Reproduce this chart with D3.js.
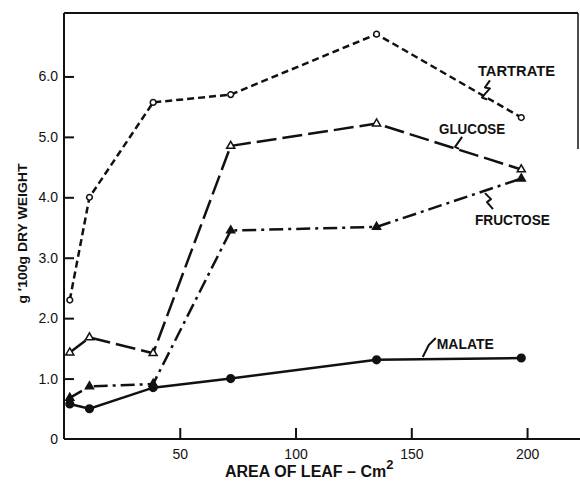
<!DOCTYPE html>
<html>
<head>
<meta charset="utf-8">
<script src="https://cdn.jsdelivr.net/npm/d3@7"></script>
<style>
  body { margin: 0; background: #fff; }
  text { font-family: "Liberation Sans", Arial, sans-serif; fill: #111; }
</style>
</head>
<body>
<div id="chart"></div>
<script>
//Width and height
var w = 580;
var h = 484;

//leaf areas (cm2) shared by every series
var leafArea = [2.5, 11, 38.5, 72, 135, 197.5];

//g / 100g dry weight
var tartrate = [2.3, 4.0, 5.57, 5.70, 6.70, 5.32];
var glucose = [1.43, 1.68, 1.42, 4.85, 5.22, 4.46];
var fructose = [0.68, 0.87, 0.91, 3.45, 3.51, 4.31];
var malate = [0.58, 0.50, 0.85, 1.00, 1.31, 1.34];

//tick labels
var yTicks = [0, 1, 2, 3, 4, 5, 6];
var xTicks = [50, 100, 150, 200];

var margin = {left: 64, right: 2, top: 13, bottom: 45};

var x = d3.scaleLinear()
  .domain([0, 222])
  .range([margin.left, w - margin.right]);

var y = d3.scaleLinear()
  .domain([0, 7.05])
  .range([h - margin.bottom, margin.top]);

//Create SVG element
var svg = d3.select("#chart")
  .append("svg")
  .attr("width", w)
  .attr("height", h);

//frame: left, top, part of the right edge, and the base line running off the page
var frame = svg.append("g")
  .attr("stroke", "#111")
  .attr("stroke-width", 2)
  .attr("fill", "none");
frame.append("line")
  .attr("x1", x(0)).attr("x2", x(0))
  .attr("y1", y(7.05)).attr("y2", y(0));
frame.append("line")
  .attr("x1", x(0)).attr("x2", x(222))
  .attr("y1", y(7.05)).attr("y2", y(7.05));
frame.append("line")
  .attr("x1", x(222)).attr("x2", x(222))
  .attr("y1", y(7.05)).attr("y2", y(4.8))
  .attr("stroke-width", 1.5);
frame.append("line")
  .attr("x1", x(0)).attr("x2", w)
  .attr("y1", y(0)).attr("y2", y(0));

//axes with inward ticks
var yAxis = d3.axisLeft(y)
  .tickValues(yTicks)
  .tickSize(-10)
  .tickPadding(6)
  .tickFormat(function(d) { return d === 0 ? "0" : d3.format(".1f")(d); });

var xAxis = d3.axisBottom(x)
  .tickValues(xTicks)
  .tickSize(-11)
  .tickPadding(10)
  .tickFormat(d3.format("d"));

var gy = svg.append("g")
  .attr("transform", "translate(" + x(0) + ",0)")
  .call(yAxis);
var gx = svg.append("g")
  .attr("transform", "translate(0," + y(0) + ")")
  .call(xAxis);

[gy, gx].forEach(function(g) {
  g.select(".domain").remove();
  g.selectAll("line").attr("stroke", "#111").attr("stroke-width", 2);
  g.selectAll("text")
    .attr("font-size", "14px")
    .attr("font-family", "Liberation Sans, Arial, sans-serif")
    .attr("fill", "#111");
});
gy.selectAll(".tick").filter(function(d) { return d === 0; }).select("line").remove();

//axis titles
svg.append("text")
  .attr("transform", "translate(27," + y(3.4) + ") rotate(-90)")
  .attr("text-anchor", "middle")
  .attr("font-size", "13px")
  .attr("font-weight", "bold")
  .attr("textLength", 140)
  .attr("lengthAdjust", "spacingAndGlyphs")
  .text("g \u2032100g DRY WEIGHT");

var xt = svg.append("text")
  .attr("x", 225)
  .attr("y", 477)
  .attr("font-size", "16px")
  .attr("font-weight", "bold");
xt.append("tspan").text("AREA OF LEAF \u2013 Cm");
xt.append("tspan")
  .attr("dy", -8)
  .attr("font-size", "13px")
  .text("2");

//series definitions
var series = [
  {name: "TARTRATE", values: tartrate, dash: "7,4", marker: "circle", fill: "#fff"},
  {name: "GLUCOSE", values: glucose, dash: "20,6", marker: "triangle", fill: "#fff"},
  {name: "FRUCTOSE", values: fructose, dash: "14,5,3,5", marker: "triangle", fill: "#111"},
  {name: "MALATE", values: malate, dash: null, marker: "circle", fill: "#111"}
];

var line = d3.line()
  .x(function(d) { return x(d[0]); })
  .y(function(d) { return y(d[1]); });

series.forEach(function(s) {
  var pts = leafArea.map(function(a, i) { return [a, s.values[i]]; });

  svg.append("path")
    .datum(pts)
    .attr("d", line)
    .attr("fill", "none")
    .attr("stroke", "#111")
    .attr("stroke-width", 2.5)
    .attr("stroke-dasharray", s.dash);

  var sym = d3.symbol()
    .type(s.marker === "circle" ? d3.symbolCircle : d3.symbolTriangle)
    .size(s.marker === "circle" ? (s.fill === "#111" ? 46 : 26) : 28);

  svg.selectAll(null)
    .data(pts)
    .enter()
    .append("path")
    .attr("d", sym)
    .attr("transform", function(d) { return "translate(" + x(d[0]) + "," + y(d[1]) + ")"; })
    .attr("fill", s.fill)
    .attr("stroke", "#111")
    .attr("stroke-width", 1.5);
});

//series labels with their little leader squiggles (offsets from label start)
var labels = [
  {text: "TARTRATE", ax: 178.8, ay: 6.0, len: 77, lead: [[12, 4], [7, 11], [12, 12], [4, 21], [9, 23]]},
  {text: "GLUCOSE", ax: 162, ay: 5.05, len: 66, lead: [[23, 3], [16, 13], [20, 15]]},
  {text: "FRUCTOSE", ax: 177.5, ay: 3.54, len: 75, lead: [[18, -16], [12, -23], [16, -26], [10, -32]]},
  {text: "MALATE", ax: 161, ay: 1.49, len: 57, lead: [[-1, -11], [-8, -4], [-14, 8]]}
];

labels.forEach(function(l) {
  var px = x(l.ax), py = y(l.ay);
  svg.append("text")
    .attr("x", px)
    .attr("y", py)
    .attr("font-size", "15px")
    .attr("font-weight", "bold")
    .attr("textLength", l.len)
    .attr("lengthAdjust", "spacingAndGlyphs")
    .text(l.text);

  svg.append("path")
    .attr("d", d3.line()(l.lead.map(function(p) { return [px + p[0], py + p[1]]; })))
    .attr("fill", "none")
    .attr("stroke", "#111")
    .attr("stroke-width", 2)
    .attr("stroke-linejoin", "round");
});
</script>
</body>
</html>
